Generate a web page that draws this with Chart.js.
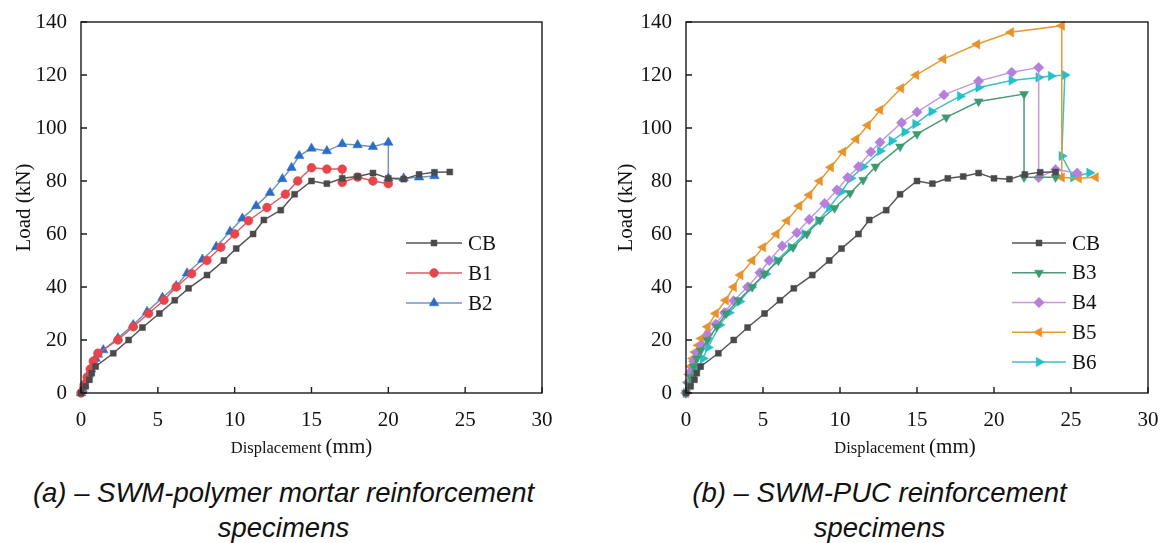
<!DOCTYPE html>
<html>
<head>
<meta charset="utf-8">
<script src="https://cdn.jsdelivr.net/npm/chart.js@4"></script>
<style>
  html, body { margin: 0; padding: 0; background: #fff; }
  body { width: 1166px; height: 543px; position: relative; overflow: hidden; }
  .panel { position: absolute; top: 0; width: 583px; height: 460px; }
  .cap { position: absolute; width: 583px; text-align: center; font: italic 27.5px "Liberation Sans", Arial, sans-serif; color: #111; line-height: 35px; }
</style>
</head>
<body>
<div class="panel" style="left:0"><canvas id="chartA"></canvas></div>
<div class="panel" style="left:583px"><canvas id="chartB"></canvas></div>
<div class="cap" style="left:-8px; top:475px">(a) – SWM-polymer mortar reinforcement<br>specimens</div>
<div class="cap" style="left:588px; top:475px">(b) – SWM-PUC reinforcement<br>specimens</div>
<script>
// Load-displacement readings (mm, kN).
const CB_X = [0, 0.3, 0.55, 0.7, 0.95, 2.1, 3.1, 4.0, 5.1, 6.1, 7.0, 8.2, 9.3, 10.1, 11.2, 11.9, 13.0, 13.9, 15, 16, 17, 18, 19, 20, 21, 22, 23, 24];
const CB_Y = [0, 2.5, 5, 7.5, 10, 15, 20, 24.7, 30, 35, 39.5, 44.5, 50, 54.5, 60, 65.3, 69, 75, 80, 79, 81, 81.7, 83, 81, 80.7, 82.5, 83.3, 83.4];

const B1_X = [0, 0.2, 0.4, 0.6, 0.8, 1.1, 2.4, 3.4, 4.4, 5.4, 6.2, 7.2, 8.2, 9.1, 10, 10.9, 12.1, 13.3, 14.1, 15, 16, 17, 17, 18, 19, 20];
const B1_Y = [0, 3, 6, 9, 12, 15, 20, 25, 30, 35, 40, 45, 50, 55, 60, 65, 70, 75, 80, 85, 84.5, 84.5, 79.5, 81.5, 80, 79];

const B2_X = [0, 0.1, 0.2, 0.35, 0.5, 0.65, 0.8, 0.95, 1.1, 1.45, 2.4, 3.4, 4.3, 5.3, 6.2, 6.9, 7.9, 8.8, 9.7, 10.5, 11.4, 12.3, 13.1, 13.7, 14.2, 15, 16, 17, 18, 19, 20, 20, 21, 22, 23];
const B2_Y = [0, 1.5, 3, 5, 7, 9, 11, 13, 14.5, 16.2, 20.7, 25.7, 30.7, 36, 40.4, 45.2, 50.4, 55.2, 60.9, 65.9, 70.6, 75.6, 80.8, 85, 89.5, 92.3, 91.3, 94, 93.6, 92.9, 94.5, 81, 81, 81.4, 81.9];

const B3_X = [0, 0.15, 0.3, 0.5, 0.7, 0.95, 1.4, 2.0, 2.6, 3.4, 4.3, 5.1, 6.0, 6.95, 7.85, 8.7, 9.65, 10.65, 11.5, 12.3, 13.9, 15.0, 16.9, 19.0, 21.95, 21.95, 24.0];
const B3_Y = [0, 3, 6, 10, 13, 16, 20, 25, 30, 35, 40, 45, 50, 55, 60, 65.3, 69.8, 75.4, 80.4, 85.4, 93, 97.7, 104, 110, 112.8, 81.4, 81.4];

const B4_X = [0, 0.15, 0.3, 0.5, 0.7, 1.0, 1.4, 1.93, 2.5, 3.1, 4.0, 4.8, 5.4, 6.25, 7.2, 8.0, 9.0, 9.8, 10.5, 11.2, 12.0, 12.6, 14.0, 15.0, 16.75, 19.0, 21.15, 22.9, 22.9, 24.0, 25.4];
const B4_Y = [0, 4, 8, 12, 15, 18, 22, 26, 30.3, 34.8, 40, 45.4, 50, 55.5, 60.5, 65.5, 71.5, 76.6, 81.3, 85.4, 91, 94.6, 102, 106, 112.5, 117.7, 121, 122.8, 81.3, 84.3, 83];

const B5_X = [0, 0.1, 0.2, 0.3, 0.45, 0.6, 0.8, 1.0, 1.4, 1.93, 2.58, 3.1, 3.53, 4.3, 5.0, 5.87, 6.56, 7.34, 8.0, 8.68, 9.4, 10.2, 11.05, 11.8, 12.6, 13.96, 14.94, 16.7, 18.9, 21.1, 24.4, 24.4, 25.5, 26.6];
const B5_Y = [0, 4, 7, 10, 13, 15.5, 18, 20.6, 25, 30, 35, 40, 44.5, 50, 55, 60, 65, 70.6, 74.7, 80, 85.2, 91, 95.8, 101, 106.8, 115, 120, 126, 131.6, 136.1, 138.6, 81.3, 81, 81.4];

const B6_X = [0, 0.15, 0.3, 0.5, 0.78, 1.1, 1.43, 2.19, 2.79, 3.48, 4.24, 5.17, 5.9, 6.8, 7.7, 8.6, 9.3, 10.1, 10.7, 11.5, 12.6, 13.36, 14.2, 14.9, 15.95, 17.8, 19.0, 21.15, 22.9, 23.7, 24.6, 24.4, 25.15, 26.2];
const B6_Y = [0, 3, 6, 8, 9.3, 13, 17.2, 25.7, 30.3, 34.5, 39.9, 44.9, 50, 55, 60, 65, 70, 76, 81, 85.4, 91.3, 95.1, 98.5, 101.5, 106.2, 112, 115.3, 117.9, 119.1, 119.6, 120, 89.4, 81.4, 83.1];

const X_TICKS = [0, 5, 10, 15, 20, 25, 30];
const Y_TICKS = [0, 20, 40, 60, 80, 100, 120, 140];

const SERIF = '"Liberation Serif", "Times New Roman", serif';

// marker look per series
const STYLE = {
  CB: { line: '#555555', fill: '#4a4a4a', pointStyle: 'rect', radius: 4.2, rotation: 0 },
  B1: { line: '#e05a5f', fill: '#e5454b', pointStyle: 'circle', radius: 4.4, rotation: 0 },
  B2: { line: '#7395bb', fill: '#2a6cc9', pointStyle: 'triangle', radius: 5.5, rotation: 0 },
  B3: { line: '#4b9a78', fill: '#3c9a70', pointStyle: 'triangle', radius: 5.2, rotation: 180 },
  B4: { line: '#c49ad8', fill: '#b57fdb', pointStyle: 'rectRot', radius: 5.2, rotation: 0 },
  B5: { line: '#e79a36', fill: '#e8932a', pointStyle: 'triangle', radius: 5.5, rotation: 270 },
  B6: { line: '#3cc0c6', fill: '#22c1c9', pointStyle: 'triangle', radius: 5.5, rotation: 90 },
};

const zip = (xs, ys) => xs.map((x, i) => ({ x, y: ys[i] }));

function series(label, xs, ys) {
  const s = STYLE[label];
  return {
    label, data: zip(xs, ys), showLine: true, tension: 0,
    borderColor: s.line, borderWidth: 1.5,
    pointStyle: s.pointStyle, pointRadius: s.radius, pointRotation: s.rotation,
    pointBackgroundColor: s.fill, pointBorderColor: s.fill, pointBorderWidth: 0.5,
    clip: 8,
  };
}

// Frame box + inward tick marks, as in the original plots.
const frameTicks = {
  id: 'frameTicks',
  afterDraw(chart) {
    const { ctx, chartArea: a, scales: { x, y } } = chart;
    ctx.save();
    ctx.strokeStyle = '#1a1a1a';
    ctx.lineWidth = 1.4;
    ctx.strokeRect(a.left, a.top, a.right - a.left, a.bottom - a.top);
    ctx.beginPath();
    X_TICKS.forEach((v) => { const px = x.getPixelForValue(v); ctx.moveTo(px, a.bottom); ctx.lineTo(px, a.bottom - 6); });
    Y_TICKS.forEach((v) => { const py = y.getPixelForValue(v); ctx.moveTo(a.left, py); ctx.lineTo(a.left + 6, py); });
    ctx.stroke();
    ctx.restore();
  },
};

// x title with the unit set a little larger, like the source figure
const xTitle = {
  id: 'xTitle',
  afterDraw(chart, args, opts) {
    const { ctx, chartArea: a } = chart;
    ctx.save();
    ctx.fillStyle = '#111';
    ctx.textBaseline = 'alphabetic';
    const f1 = '16.5px ' + SERIF, f2 = '21px ' + SERIF;
    ctx.font = f1; const w1 = ctx.measureText('Displacement ').width;
    ctx.font = f2; const w2 = ctx.measureText('(mm)').width;
    const x0 = (a.left + a.right) / 2 + opts.dx - (w1 + w2) / 2;
    ctx.font = f1; ctx.fillText('Displacement ', x0, opts.y);
    ctx.font = f2; ctx.fillText('(mm)', x0 + w1, opts.y);
    ctx.restore();
  },
};

// Legend drawn inside the plot (line + marker + label).
const innerLegend = {
  id: 'innerLegend',
  afterDraw(chart, args, opts) {
    const { ctx } = chart;
    ctx.save();
    chart.data.datasets.forEach((ds, i) => {
      const s = STYLE[ds.label];
      const y = opts.y + i * opts.dy;
      ctx.strokeStyle = s.line; ctx.lineWidth = 1.5;
      ctx.beginPath(); ctx.moveTo(opts.x0, y); ctx.lineTo(opts.x1, y); ctx.stroke();
      ctx.fillStyle = s.fill; ctx.strokeStyle = s.fill; ctx.lineWidth = 0.5;
      Chart.helpers.drawPoint(ctx, { pointStyle: s.pointStyle, radius: s.radius, rotation: s.rotation, borderWidth: 0.5 }, (opts.x0 + opts.x1) / 2, y);
      ctx.fillStyle = '#111';
      ctx.font = '21px ' + SERIF;
      ctx.textBaseline = 'middle';
      ctx.fillText(ds.label, opts.x1 + 6, y + 1);
    });
    ctx.restore();
  },
};

function makeChart(id, datasets, yWidth, titlePad, rightPad, legend, xt) {
  return new Chart(document.getElementById(id), {
    type: 'scatter',
    data: { datasets },
    plugins: [frameTicks, innerLegend, xTitle],
    options: {
      responsive: true, maintainAspectRatio: false, animation: false,
      layout: { padding: { top: 22, right: rightPad, left: 0, bottom: 0 } },
      plugins: { legend: { display: false }, tooltip: { enabled: false }, innerLegend: legend, xTitle: xt },
      scales: {
        x: {
          type: 'linear', min: 0, max: 30,
          afterBuildTicks: (sc) => { sc.ticks = X_TICKS.map((v) => ({ value: v })); },
          afterFit: (sc) => { sc.height = 67; },
          grid: { display: false }, border: { display: false },
          ticks: { color: '#111', font: { family: SERIF, size: 21 }, padding: 7, maxRotation: 0 },
          title: { display: false },
        },
        y: {
          type: 'linear', min: 0, max: 140,
          afterBuildTicks: (sc) => { sc.ticks = Y_TICKS.map((v) => ({ value: v })); },
          afterFit: (sc) => { sc.width = yWidth; },
          grid: { display: false }, border: { display: false },
          ticks: { color: '#111', font: { family: SERIF, size: 21 }, padding: 6 },
          title: { display: true, text: 'Load (kN)', color: '#111', font: { family: SERIF, size: 21 }, padding: { top: titlePad, bottom: 0 } },
        },
      },
    },
  });
}

makeChart('chartA', [
  series('CB', CB_X, CB_Y),
  series('B1', B1_X, B1_Y),
  series('B2', B2_X, B2_Y),
], 81, 12, 41, { x0: 406, x1: 462, y: 243, dy: 30 }, { dx: -10, y: 453 });

makeChart('chartB', [
  series('CB', CB_X, CB_Y),
  series('B3', B3_X, B3_Y),
  series('B4', B4_X, B4_Y),
  series('B5', B5_X, B5_Y),
  series('B6', B6_X, B6_Y),
], 103, 31, 18, { x0: 429, x1: 483, y: 243, dy: 29.75 }, { dx: -12, y: 453 });
</script>
</body>
</html>
